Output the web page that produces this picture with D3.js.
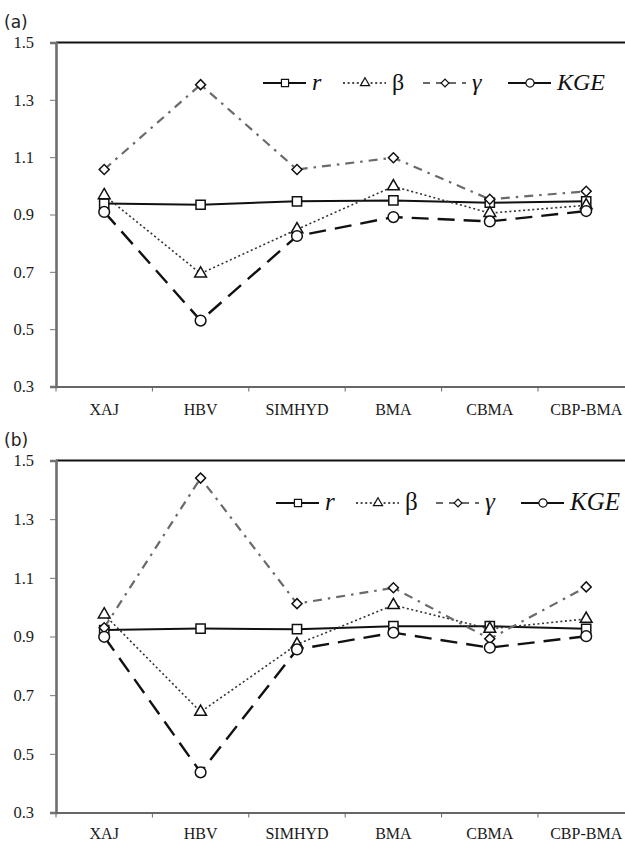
<!DOCTYPE html>
<html>
<head>
<meta charset="utf-8">
<script src="https://cdn.jsdelivr.net/npm/d3@7"></script>
<style>
  body { margin: 0; background: #fff; }
  svg { display: block; }
  .serif { font-family: 'Liberation Serif', 'Times New Roman', 'DejaVu Serif', serif; }
</style>
</head>
<body>
<script>
// categories and tick labels
const categories = ['XAJ', 'HBV', 'SIMHYD', 'BMA', 'CBMA', 'CBP-BMA'];
const yTicks = [0.3, 0.5, 0.7, 0.9, 1.1, 1.3, 1.5];

// panel (a) values
const rA     = [0.938, 0.934, 0.946, 0.949, 0.941, 0.946];
const betaA  = [0.967, 0.694, 0.848, 0.998, 0.905, 0.932];
const gammaA = [1.057, 1.353, 1.057, 1.098, 0.953, 0.981];
const kgeA   = [0.909, 0.530, 0.825, 0.891, 0.876, 0.912];

// panel (b) values
const rB     = [0.922, 0.927, 0.925, 0.935, 0.935, 0.926];
const betaB  = [0.975, 0.643, 0.873, 1.007, 0.926, 0.960];
const gammaB = [0.930, 1.440, 1.012, 1.066, 0.892, 1.069];
const kgeB   = [0.899, 0.437, 0.856, 0.913, 0.862, 0.901];

const svg = d3.select('body').append('svg')
    .attr('width', 625)
    .attr('height', 842);

// series look
const styles = [
  { key: 'r',   label: 'r',   italic: true,  symbol: d3.symbolSquare,   size: 85, rot: 0,
    color: '#111', width: 2,   dash: null,        legendDash: null },
  { key: 'b',   label: 'β',   italic: false, symbol: d3.symbolTriangle, size: 60, rot: 0,
    color: '#333', width: 1.6, dash: '2,2.6',     legendDash: '2,2.6' },
  { key: 'g',   label: 'γ',   italic: true,  symbol: d3.symbolSquare,   size: 50, rot: 45,
    color: '#6a6a6a', width: 2.2, dash: '9,6,2.5,6', legendDash: '7,6' },
  { key: 'kge', label: 'KGE', italic: true,  symbol: d3.symbolCircle,   size: 90, rot: 0,
    color: '#111', width: 2.4, dash: '17,9',      legendDash: null }
];

function drawPanel(opts) {
  const x = d3.scaleBand()
      .domain(categories)
      .range([56, 56 + 6 * 96.4]);

  const y = d3.scaleLinear()
      .domain([0.3, 1.5])
      .range([opts.bottom, opts.top]);

  const g = svg.append('g');

  // panel letter
  g.append('text')
      .attr('x', 4)
      .attr('y', opts.top - 15)
      .attr('font-family', 'DejaVu Sans, sans-serif')
      .attr('font-size', 17)
      .attr('fill', '#222')
      .text(opts.name);

  // top border
  g.append('line')
      .attr('x1', 56).attr('x2', 640)
      .attr('y1', opts.top).attr('y2', opts.top)
      .attr('stroke', '#111')
      .attr('stroke-width', 2.2);

  // y axis
  const yAxis = g.append('g')
      .attr('transform', 'translate(56,0)')
      .call(d3.axisLeft(y).tickValues(yTicks).tickFormat(d3.format('.1f')).tickSize(6).tickPadding(16));
  yAxis.attr('font-family', null);
  yAxis.select('.domain').attr('stroke', '#6e6e6e').attr('stroke-width', 2.6);
  yAxis.selectAll('.tick line').attr('stroke', '#777');
  yAxis.selectAll('.tick text')
      .attr('class', 'serif')
      .attr('font-size', 16.5)
      .attr('fill', '#1a1a1a');

  // x axis
  const xAxis = g.append('g')
      .attr('transform', `translate(0,${opts.bottom})`)
      .call(d3.axisBottom(x).tickSize(0).tickPadding(opts.xPad));
  xAxis.attr('font-family', null);
  xAxis.select('.domain').attr('stroke', '#666').attr('stroke-width', 2);
  xAxis.selectAll('.tick text')
      .attr('class', 'serif')
      .attr('font-size', 16)
      .attr('fill', '#1a1a1a');

  // category boundary ticks
  g.selectAll('.bt')
      .data(categories)
      .enter()
    .append('line')
      .attr('x1', d => x(d)).attr('x2', d => x(d))
      .attr('y1', opts.bottom).attr('y2', opts.bottom + 5)
      .attr('stroke', '#666');

  const line = d3.line()
      .x((d, i) => x(categories[i]) + x.bandwidth() / 2)
      .y(d => y(d));

  opts.series.forEach((vals, si) => {
    const s = styles[si];
    g.append('path')
        .datum(vals)
        .attr('d', line)
        .attr('fill', 'none')
        .attr('stroke', s.color)
        .attr('stroke-width', s.width)
        .attr('stroke-dasharray', s.dash);
  });

  opts.series.forEach((vals, si) => {
    const s = styles[si];
    g.selectAll('.m' + si)
        .data(vals)
        .enter()
      .append('path')
        .attr('d', d3.symbol().type(s.symbol).size(s.size))
        .attr('transform', (d, i) =>
          `translate(${x(categories[i]) + x.bandwidth() / 2},${y(d)}) rotate(${s.rot})`)
        .attr('fill', '#fff')
        .attr('stroke', '#111')
        .attr('stroke-width', 1.5);
  });

  // legend
  const leg = g.append('g')
      .attr('transform', `translate(${opts.legX},${opts.legY})`);
  const offsets = [0, 80, 160, 245];
  styles.forEach((s, i) => {
    const it = leg.append('g').attr('transform', `translate(${offsets[i]},0)`);
    it.append('line')
        .attr('x1', 0).attr('x2', 43)
        .attr('y1', 0).attr('y2', 0)
        .attr('stroke', s.color === '#6a6a6a' ? '#6a6a6a' : '#111')
        .attr('stroke-width', s.key === 'b' ? 1.6 : 2.2)
        .attr('stroke-dasharray', s.legendDash);
    it.append('path')
        .attr('d', d3.symbol().type(s.symbol).size(s.size * 0.6))
        .attr('transform', `translate(22,0) rotate(${s.rot})`)
        .attr('fill', '#fff')
        .attr('stroke', '#111')
        .attr('stroke-width', 1.2);
    it.append('text')
        .attr('class', 'serif')
        .attr('x', 49)
        .attr('y', 7)
        .attr('font-size', opts.legFont)
        .attr('font-style', s.italic ? 'italic' : 'normal')
        .attr('fill', '#111')
        .text(s.label);
  });
}

drawPanel({ name: '(a)', top: 42.5, bottom: 386.5, xPad: 17, legX: 263, legY: 83, legFont: 24,
  series: [rA, betaA, gammaA, kgeA] });
drawPanel({ name: '(b)', top: 460.5, bottom: 812.5, xPad: 15, legX: 276, legY: 503, legFont: 25,
  series: [rB, betaB, gammaB, kgeB] });
</script>
</body>
</html>
